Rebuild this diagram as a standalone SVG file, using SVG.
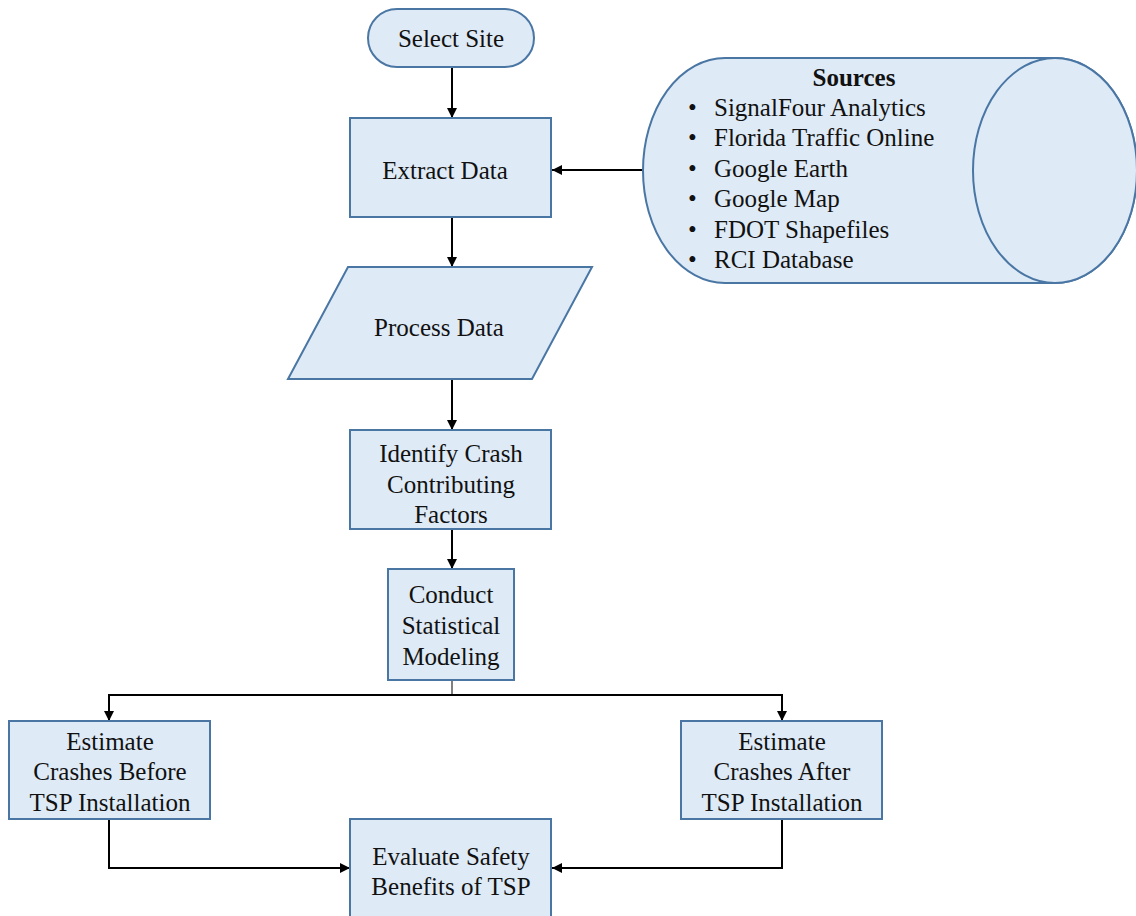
<svg xmlns="http://www.w3.org/2000/svg" width="1136" height="916" viewBox="0 0 1136 916" font-family="Liberation Serif, Tinos, Times New Roman, serif">
<defs>
<marker id="ah" viewBox="0 0 10 10" refX="10" refY="5" markerWidth="10" markerHeight="10" markerUnits="userSpaceOnUse" orient="auto">
<path d="M0,0 L10,5 L0,10 z" fill="#000"/>
</marker>
</defs>
<style>
.box{fill:#deeaf6;stroke:#4a76a4;stroke-width:2}
.t{font-size:25px;fill:#111;text-anchor:middle}
.l{font-size:25px;fill:#111}
.b{font-weight:bold}
.c{fill:none;stroke:#000;stroke-width:2}
.thin{fill:none;stroke:#000;stroke-width:1}
</style>
<rect width="1136" height="916" fill="#fff"/>
<g id="connectors">
<line class="c" x1="452" y1="67" x2="452" y2="118" marker-end="url(#ah)"/>
<line class="c" x1="452" y1="217" x2="452" y2="267" marker-end="url(#ah)"/>
<line class="c" x1="452" y1="379" x2="452" y2="430" marker-end="url(#ah)"/>
<line class="c" x1="452" y1="529" x2="452" y2="569" marker-end="url(#ah)"/>
<line class="c" x1="643" y1="170" x2="552" y2="170" marker-end="url(#ah)"/>
<line class="thin" x1="452" y1="680" x2="452" y2="695"/>
<path class="c" d="M452,695 H109 V721" marker-end="url(#ah)"/>
<path class="c" d="M452,695 H782 V721" marker-end="url(#ah)"/>
<path class="c" d="M109,819 V868 H350" marker-end="url(#ah)"/>
<path class="c" d="M782,819 V868 H552" marker-end="url(#ah)"/>
</g>
<g id="select-site">
<rect class="box" x="368" y="9" width="166" height="58" rx="29" ry="29"/>
<text class="t" x="451" y="47">Select Site</text>
</g>
<g id="extract-data">
<rect class="box" x="350" y="118" width="201" height="99"/>
<text class="t" x="445" y="179">Extract Data</text>
</g>
<g id="sources">
<path class="box" d="M725,58 H1055 A82,112.5 0 0 1 1055,283 H725 A82,112.5 0 0 1 725,58 z"/>
<ellipse class="box" cx="1055" cy="170.5" rx="82" ry="112.5"/>
<text class="t b" x="854" y="86">Sources</text>
<g class="l">
<text x="688" y="116">•</text><text x="714" y="116">SignalFour Analytics</text>
<text x="688" y="146">•</text><text x="714" y="146">Florida Traffic Online</text>
<text x="688" y="177">•</text><text x="714" y="177">Google Earth</text>
<text x="688" y="207">•</text><text x="714" y="207">Google Map</text>
<text x="688" y="238">•</text><text x="714" y="238">FDOT Shapefiles</text>
<text x="688" y="268">•</text><text x="714" y="268">RCI Database</text>
</g>
</g>
<g id="process-data">
<polygon class="box" points="348,267 592,267 532,379 288,379"/>
<text class="t" x="439" y="336">Process Data</text>
</g>
<g id="identify">
<rect class="box" x="350" y="430" width="201" height="99"/>
<text class="t" x="451" y="462">Identify Crash</text>
<text class="t" x="451" y="493">Contributing</text>
<text class="t" x="451" y="523">Factors</text>
</g>
<g id="conduct">
<rect class="box" x="388" y="569" width="126" height="111"/>
<text class="t" x="451" y="603">Conduct</text>
<text class="t" x="451" y="634">Statistical</text>
<text class="t" x="451" y="665">Modeling</text>
</g>
<g id="estimate-before">
<rect class="box" x="9" y="721" width="201" height="98"/>
<text class="t" x="110" y="750">Estimate</text>
<text class="t" x="110" y="780">Crashes Before</text>
<text class="t" x="110" y="811">TSP Installation</text>
</g>
<g id="estimate-after">
<rect class="box" x="681" y="721" width="201" height="98"/>
<text class="t" x="782" y="750">Estimate</text>
<text class="t" x="782" y="780">Crashes After</text>
<text class="t" x="782" y="811">TSP Installation</text>
</g>
<g id="evaluate">
<rect class="box" x="350" y="819" width="201" height="99"/>
<text class="t" x="451" y="865">Evaluate Safety</text>
<text class="t" x="451" y="895">Benefits of TSP</text>
</g>
</svg>
